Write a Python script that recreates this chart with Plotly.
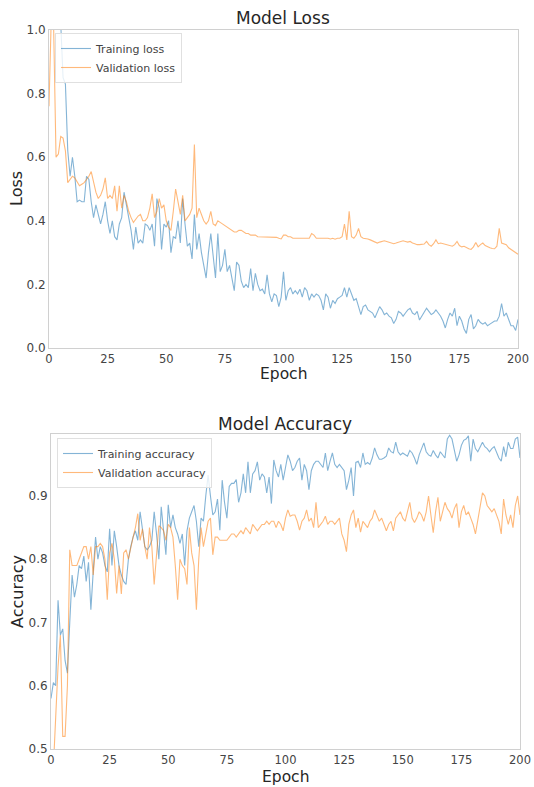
import plotly.graph_objects as go

train_loss = [
    1.60, 1.40, 1.25, 1.15, 1.08, 1.02, 0.85, 0.83, 0.62, 0.54,
    0.60, 0.54, 0.46, 0.465, 0.46, 0.46, 0.54, 0.53, 0.46, 0.41,
    0.45, 0.42, 0.39, 0.42, 0.46, 0.40, 0.36, 0.40, 0.35, 0.34,
    0.39, 0.41, 0.49, 0.45, 0.41, 0.37, 0.31, 0.38, 0.33, 0.34,
    0.33, 0.39, 0.385, 0.37, 0.39, 0.32, 0.47, 0.44, 0.31, 0.39,
    0.38, 0.40, 0.30, 0.35, 0.345, 0.40, 0.33, 0.47, 0.39, 0.32,
    0.33, 0.28, 0.42, 0.31, 0.36, 0.30, 0.26, 0.22, 0.30, 0.36,
    0.29, 0.22, 0.36, 0.24, 0.26, 0.31, 0.24, 0.26, 0.22, 0.18,
    0.27, 0.26, 0.21, 0.19, 0.20, 0.19, 0.25, 0.18, 0.235, 0.20,
    0.18, 0.185, 0.17, 0.23, 0.17, 0.145, 0.17, 0.165, 0.13, 0.16,
    0.24, 0.15, 0.18, 0.19, 0.17, 0.18, 0.17, 0.185, 0.16, 0.19,
    0.18, 0.15, 0.17, 0.16, 0.17, 0.165, 0.15, 0.12, 0.17, 0.16,
    0.125, 0.15, 0.14, 0.155, 0.16, 0.165, 0.19, 0.16, 0.19, 0.17,
    0.15, 0.155, 0.13, 0.105, 0.13, 0.135, 0.12, 0.115, 0.11, 0.095,
    0.11, 0.13, 0.12, 0.105, 0.11, 0.10, 0.095, 0.077, 0.09, 0.115,
    0.11, 0.10, 0.11, 0.12, 0.125, 0.11, 0.105, 0.115, 0.088, 0.10,
    0.11, 0.125, 0.115, 0.105, 0.11, 0.12, 0.11, 0.10, 0.085, 0.063,
    0.09, 0.11, 0.10, 0.125, 0.07, 0.10, 0.085, 0.06, 0.046, 0.09,
    0.105, 0.06, 0.07, 0.09, 0.08, 0.075, 0.08, 0.07, 0.075, 0.08,
    0.085, 0.085, 0.10, 0.14, 0.10, 0.11, 0.09, 0.07, 0.07, 0.055,
    0.09,
]

val_loss = [
    0.76, 1.05, 1.00, 0.60, 0.61, 0.665, 0.66, 0.62, 0.52, 0.53,
    0.54, 0.535, 0.52, 0.51, 0.515, 0.52, 0.53, 0.54, 0.555, 0.52,
    0.49, 0.47, 0.48, 0.50, 0.535, 0.47, 0.48, 0.47, 0.51, 0.43,
    0.51, 0.44, 0.48, 0.46, 0.43, 0.41, 0.395, 0.405, 0.415, 0.42,
    0.40, 0.40, 0.41, 0.44, 0.485, 0.41, 0.43, 0.47, 0.44, 0.45,
    0.40, 0.38, 0.37, 0.43, 0.50, 0.46, 0.42, 0.48, 0.40, 0.41,
    0.42, 0.44, 0.64, 0.41, 0.44, 0.42, 0.40, 0.39, 0.40, 0.43,
    0.39, 0.385, 0.40, 0.395, 0.39, 0.385, 0.38, 0.375, 0.37, 0.365,
    0.365, 0.37, 0.37, 0.365, 0.36, 0.36, 0.355, 0.355, 0.355, 0.35,
    0.35, 0.35, 0.35, 0.35, 0.35, 0.35, 0.35, 0.348, 0.345, 0.343,
    0.355, 0.355, 0.35, 0.35, 0.345, 0.345, 0.345, 0.345, 0.345, 0.345,
    0.345, 0.345, 0.36, 0.355, 0.345, 0.345, 0.345, 0.347, 0.345, 0.345,
    0.343, 0.345, 0.342, 0.345, 0.345, 0.35, 0.39, 0.34, 0.43, 0.35,
    0.345, 0.355, 0.376, 0.35, 0.345, 0.345, 0.343, 0.34, 0.337, 0.333,
    0.33, 0.333, 0.335, 0.337, 0.335, 0.333, 0.33, 0.328, 0.33, 0.332,
    0.335, 0.337, 0.335, 0.333, 0.335, 0.33, 0.328, 0.325, 0.325, 0.325,
    0.327, 0.335, 0.325, 0.32, 0.328, 0.34, 0.328, 0.33, 0.328, 0.327,
    0.325, 0.322, 0.32, 0.325, 0.335, 0.322, 0.318, 0.32, 0.315, 0.312,
    0.31, 0.318, 0.332, 0.318, 0.325, 0.33, 0.322, 0.318, 0.315, 0.313,
    0.312, 0.32, 0.376, 0.33, 0.328, 0.325, 0.315, 0.31, 0.305, 0.30,
    0.295,
]

train_acc = [
    0.58, 0.605, 0.60, 0.735, 0.68, 0.69, 0.64, 0.62, 0.70, 0.775,
    0.74, 0.76, 0.79, 0.785, 0.805, 0.765, 0.795, 0.72, 0.78, 0.835,
    0.80, 0.82, 0.81, 0.79, 0.78, 0.848, 0.79, 0.845, 0.82, 0.79,
    0.775, 0.765, 0.76, 0.80, 0.82, 0.835, 0.845, 0.83, 0.875, 0.85,
    0.82, 0.815, 0.82, 0.83, 0.875, 0.84, 0.80, 0.883, 0.84, 0.807,
    0.886, 0.85, 0.87, 0.85, 0.84, 0.825, 0.84, 0.79, 0.845, 0.865,
    0.875, 0.885, 0.86, 0.82, 0.865, 0.86, 0.90, 0.933, 0.90, 0.87,
    0.875, 0.895, 0.846, 0.925, 0.89, 0.865, 0.915, 0.92, 0.92, 0.926,
    0.89, 0.905, 0.935, 0.905, 0.954, 0.905, 0.935, 0.94, 0.954, 0.925,
    0.935, 0.93, 0.905, 0.93, 0.888, 0.957, 0.94, 0.93, 0.95, 0.925,
    0.945, 0.965, 0.955, 0.94, 0.945, 0.955, 0.96, 0.925, 0.95, 0.94,
    0.91, 0.94, 0.95, 0.955, 0.955, 0.95, 0.945, 0.968, 0.94, 0.955,
    0.968, 0.95, 0.945, 0.95, 0.945, 0.94, 0.91, 0.925, 0.945, 0.90,
    0.953, 0.955, 0.945, 0.968, 0.95, 0.953, 0.95, 0.96, 0.976, 0.965,
    0.958, 0.958, 0.96, 0.963, 0.976, 0.97, 0.968, 0.985, 0.97, 0.965,
    0.968, 0.965, 0.963, 0.972, 0.968, 0.96, 0.95, 0.965, 0.975, 0.984,
    0.97, 0.965, 0.963, 0.972, 0.965, 0.96, 0.97, 0.965, 0.96, 0.99,
    0.996, 0.99, 0.97, 0.955, 0.965, 0.98, 0.988, 0.99, 0.995, 0.955,
    0.99, 0.975, 0.97, 0.978, 0.985, 0.978, 0.975, 0.97, 0.975, 0.978,
    0.968, 0.96, 0.955, 0.978, 0.962, 0.985, 0.975, 0.975, 0.99, 0.993,
    0.96,
]

val_acc = [
    0.42, 0.47, 0.55, 0.63, 0.68, 0.52, 0.52, 0.60, 0.815, 0.79,
    0.79, 0.79, 0.80, 0.81, 0.82, 0.82, 0.80, 0.82, 0.775, 0.82,
    0.82, 0.825, 0.82, 0.80, 0.736, 0.81, 0.825, 0.80, 0.746, 0.79,
    0.745, 0.81, 0.815, 0.80, 0.82, 0.835, 0.85, 0.872, 0.83, 0.848,
    0.82, 0.80, 0.85, 0.82, 0.76, 0.81, 0.853, 0.85, 0.845, 0.83,
    0.855, 0.85, 0.835, 0.79, 0.736, 0.80, 0.79, 0.785, 0.76, 0.85,
    0.81, 0.79, 0.72, 0.80, 0.85, 0.82, 0.84, 0.86, 0.865, 0.807,
    0.835, 0.835, 0.83, 0.83, 0.83, 0.83, 0.835, 0.84, 0.84, 0.835,
    0.84, 0.845, 0.84, 0.85, 0.845, 0.84, 0.855, 0.85, 0.845, 0.85,
    0.855, 0.855, 0.86, 0.855, 0.86, 0.86, 0.85, 0.86, 0.855, 0.845,
    0.865, 0.878, 0.868, 0.87, 0.87, 0.86, 0.846, 0.86, 0.865, 0.878,
    0.86, 0.865, 0.85, 0.89, 0.85, 0.855, 0.86, 0.868, 0.855, 0.86,
    0.86, 0.855, 0.86, 0.865, 0.84, 0.83, 0.812, 0.855, 0.87, 0.878,
    0.85, 0.865, 0.843, 0.86, 0.855, 0.85, 0.86, 0.865, 0.878, 0.87,
    0.86, 0.865, 0.855, 0.845, 0.855, 0.86, 0.845, 0.865, 0.87, 0.875,
    0.865, 0.86, 0.875, 0.89, 0.865, 0.858, 0.865, 0.875, 0.87, 0.86,
    0.875, 0.90, 0.87, 0.842, 0.875, 0.898, 0.86, 0.875, 0.89, 0.88,
    0.875, 0.865, 0.88, 0.888, 0.85, 0.875, 0.885, 0.87, 0.875, 0.865,
    0.855, 0.84, 0.86, 0.885, 0.905, 0.90, 0.885, 0.88, 0.875, 0.88,
    0.87, 0.86, 0.84, 0.895, 0.87, 0.855, 0.87, 0.85, 0.885, 0.90,
    0.87,
]

x_ticks = [0, 25, 50, 75, 100, 125, 150, 175, 200]
loss_ticks = [0.0, 0.2, 0.4, 0.6, 0.8, 1.0]
acc_ticks = [0.5, 0.6, 0.7, 0.8, 0.9]

W, H = 534, 787
BLUE = "rgba(31,119,180,0.55)"
ORANGE = "rgba(255,127,14,0.55)"
FONT = "DejaVu Sans"
TXT = "#262626"

fig = go.Figure()
fig.add_trace(go.Scatter(x=list(range(len(train_loss))), y=train_loss, mode="lines",
                         name="Training loss", line=dict(color=BLUE, width=1.1),
                         xaxis="x", yaxis="y", legend="legend"))
fig.add_trace(go.Scatter(x=list(range(len(val_loss))), y=val_loss, mode="lines",
                         name="Validation loss", line=dict(color=ORANGE, width=1.1),
                         xaxis="x", yaxis="y", legend="legend"))
fig.add_trace(go.Scatter(x=list(range(len(train_acc))), y=train_acc, mode="lines",
                         name="Training accuracy", line=dict(color=BLUE, width=1.1),
                         xaxis="x2", yaxis="y2", legend="legend2"))
fig.add_trace(go.Scatter(x=list(range(len(val_acc))), y=val_acc, mode="lines",
                         name="Validation accuracy", line=dict(color=ORANGE, width=1.1),
                         xaxis="x2", yaxis="y2", legend="legend2"))

axis_common = dict(showgrid=False, zeroline=False, showline=True, mirror=True,
                   linecolor="#d0d0d0", linewidth=1, ticks="", automargin=False,
                   ticklabelstandoff=0)
yfont = dict(tickfont=dict(family=FONT, size=12, color="#444444"))
xfont = dict(tickfont=dict(family=FONT, size=11.5, color="#444444"))

def ydom(top_px, bottom_px):
    return [1 - bottom_px / H, 1 - top_px / H]

legend_common = dict(bgcolor="rgba(255,255,255,0.8)", bordercolor="#e0e0e0", borderwidth=1,
                     font=dict(family=FONT, size=11, color="#444444"),
                     xanchor="left", yanchor="top", tracegroupgap=0,
                     itemwidth=30)

fig.update_layout(
    width=W, height=H,
    margin=dict(l=0, r=0, t=0, b=0, autoexpand=False),
    paper_bgcolor="white", plot_bgcolor="white",
    font=dict(family=FONT, color=TXT),
    xaxis=dict(domain=[49 / W, 518 / W], range=[0, 200], tickvals=x_ticks,
               anchor="y", **axis_common, **xfont),
    yaxis=dict(domain=ydom(30, 348), range=[0, 1], tickvals=loss_ticks,
               tickformat=".1f", anchor="x", **axis_common, **yfont),
    xaxis2=dict(domain=[51 / W, 520 / W], range=[0, 200], tickvals=x_ticks,
                anchor="y2", **axis_common, **xfont),
    yaxis2=dict(domain=ydom(434, 749), range=[0.5, 0.998], tickvals=acc_ticks,
                tickformat=".1f", anchor="x2", **axis_common, **yfont),
    legend=dict(x=55 / W, y=1 - 33 / H, **legend_common),
    legend2=dict(x=57 / W, y=1 - 438 / H, **legend_common),
    showlegend=True,
)

annotations = [
    dict(text="Model Loss", x=283 / W, y=1 - 18 / H, size=17, anchor="middle"),
    dict(text="Model Accuracy", x=285 / W, y=1 - 424 / H, size=17, anchor="middle"),
    dict(text="Epoch", x=283 / W, y=1 - 384 / H, size=15.5, anchor="bottom"),
    dict(text="Epoch", x=285 / W, y=1 - 787 / H, size=15.5, anchor="bottom"),
]
for a in annotations:
    fig.add_annotation(text=a["text"], x=a["x"], y=a["y"], xref="paper", yref="paper",
                       showarrow=False, xanchor="center", yanchor=a["anchor"],
                       borderpad=0,
                       font=dict(family=FONT, size=a["size"], color=TXT))
for txt, yc in [("Loss", 189), ("Accuracy", 592)]:
    fig.add_annotation(text=txt, x=17 / W, y=1 - yc / H, xref="paper", yref="paper",
                       showarrow=False, textangle=-90, xanchor="center", yanchor="middle",
                       font=dict(family=FONT, size=16, color=TXT))

fig.write_html("out.html", config={"displayModeBar": False},
               post_script="document.body.style.margin='0';document.body.style.padding='0';")
